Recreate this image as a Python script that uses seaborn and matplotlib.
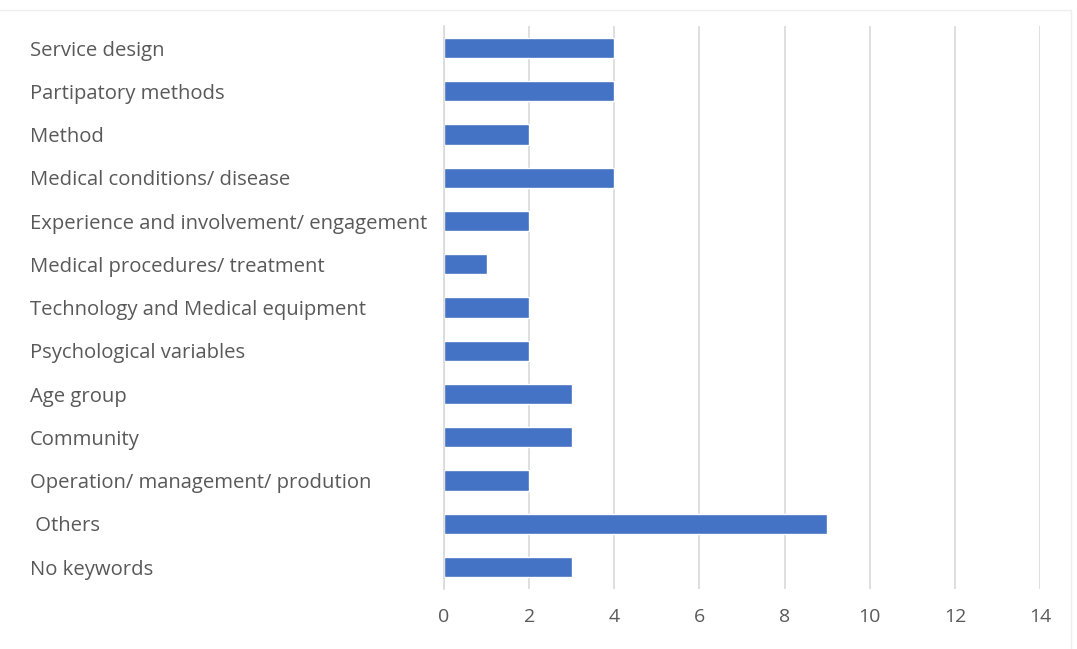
import pandas as pd
import seaborn as sns
import matplotlib.pyplot as plt
from matplotlib.patches import Rectangle

# Keyword categories, top to bottom as shown in the chart
categories = [
    "Service design",
    "Partipatory methods",
    "Method",
    "Medical conditions/ disease",
    "Experience and involvement/ engagement",
    "Medical procedures/ treatment",
    "Technology and Medical equipment",
    "Psychological variables",
    "Age group",
    "Community",
    "Operation/ management/ prodution",
    " Others",
    "No keywords",
]
counts = [4, 4, 2, 4, 2, 1, 2, 2, 3, 3, 2, 9, 3]
xticks = [0, 2, 4, 6, 8, 10, 12, 14]

df = pd.DataFrame({"Keyword": categories, "Count": counts})

sns.set_theme(style="white")
plt.rcParams["font.family"] = ["Open Sans", "DejaVu Sans"]

fig = plt.figure(figsize=(10.77, 6.49), dpi=100)
ax = fig.add_axes([0.4123, 0.0930, 0.5534, 0.8663])

sns.barplot(data=df, x="Count", y="Keyword", color="#4472C4",
            saturation=1, width=0.47, ax=ax)

ax.set_xlim(0, 14)
ax.set_ylim(12.5, -0.5)
ax.set_xticks(xticks)
ax.set_xticklabels([str(t) for t in xticks])
ax.set_xlabel("")
ax.set_ylabel("")

# Vertical gridlines like Excel
ax.xaxis.grid(True, color="#D9D9D9", linewidth=1.2)
ax.set_axisbelow(True)
for side in ["top", "right", "bottom"]:
    ax.spines[side].set_visible(False)
ax.spines["left"].set_color("#D9D9D9")
ax.spines["left"].set_linewidth(1.2)

ax.tick_params(axis="both", length=0, colors="#595959")
ax.tick_params(axis="x", pad=14, labelsize=14)
for lbl in ax.get_yticklabels():
    lbl.set_horizontalalignment("left")
# pad is in points: 414 px at 100 dpi -> ~298 pt
ax.tick_params(axis="y", pad=298, labelsize=14.6)

# faint outer chart border (top and right edges visible)
fig.patches.append(Rectangle((-0.01, -0.05), 1.004, 1.035, transform=fig.transFigure,
                             fill=False, edgecolor="#EEEEEE", linewidth=1))

plt.savefig("out.png", dpi=100)
